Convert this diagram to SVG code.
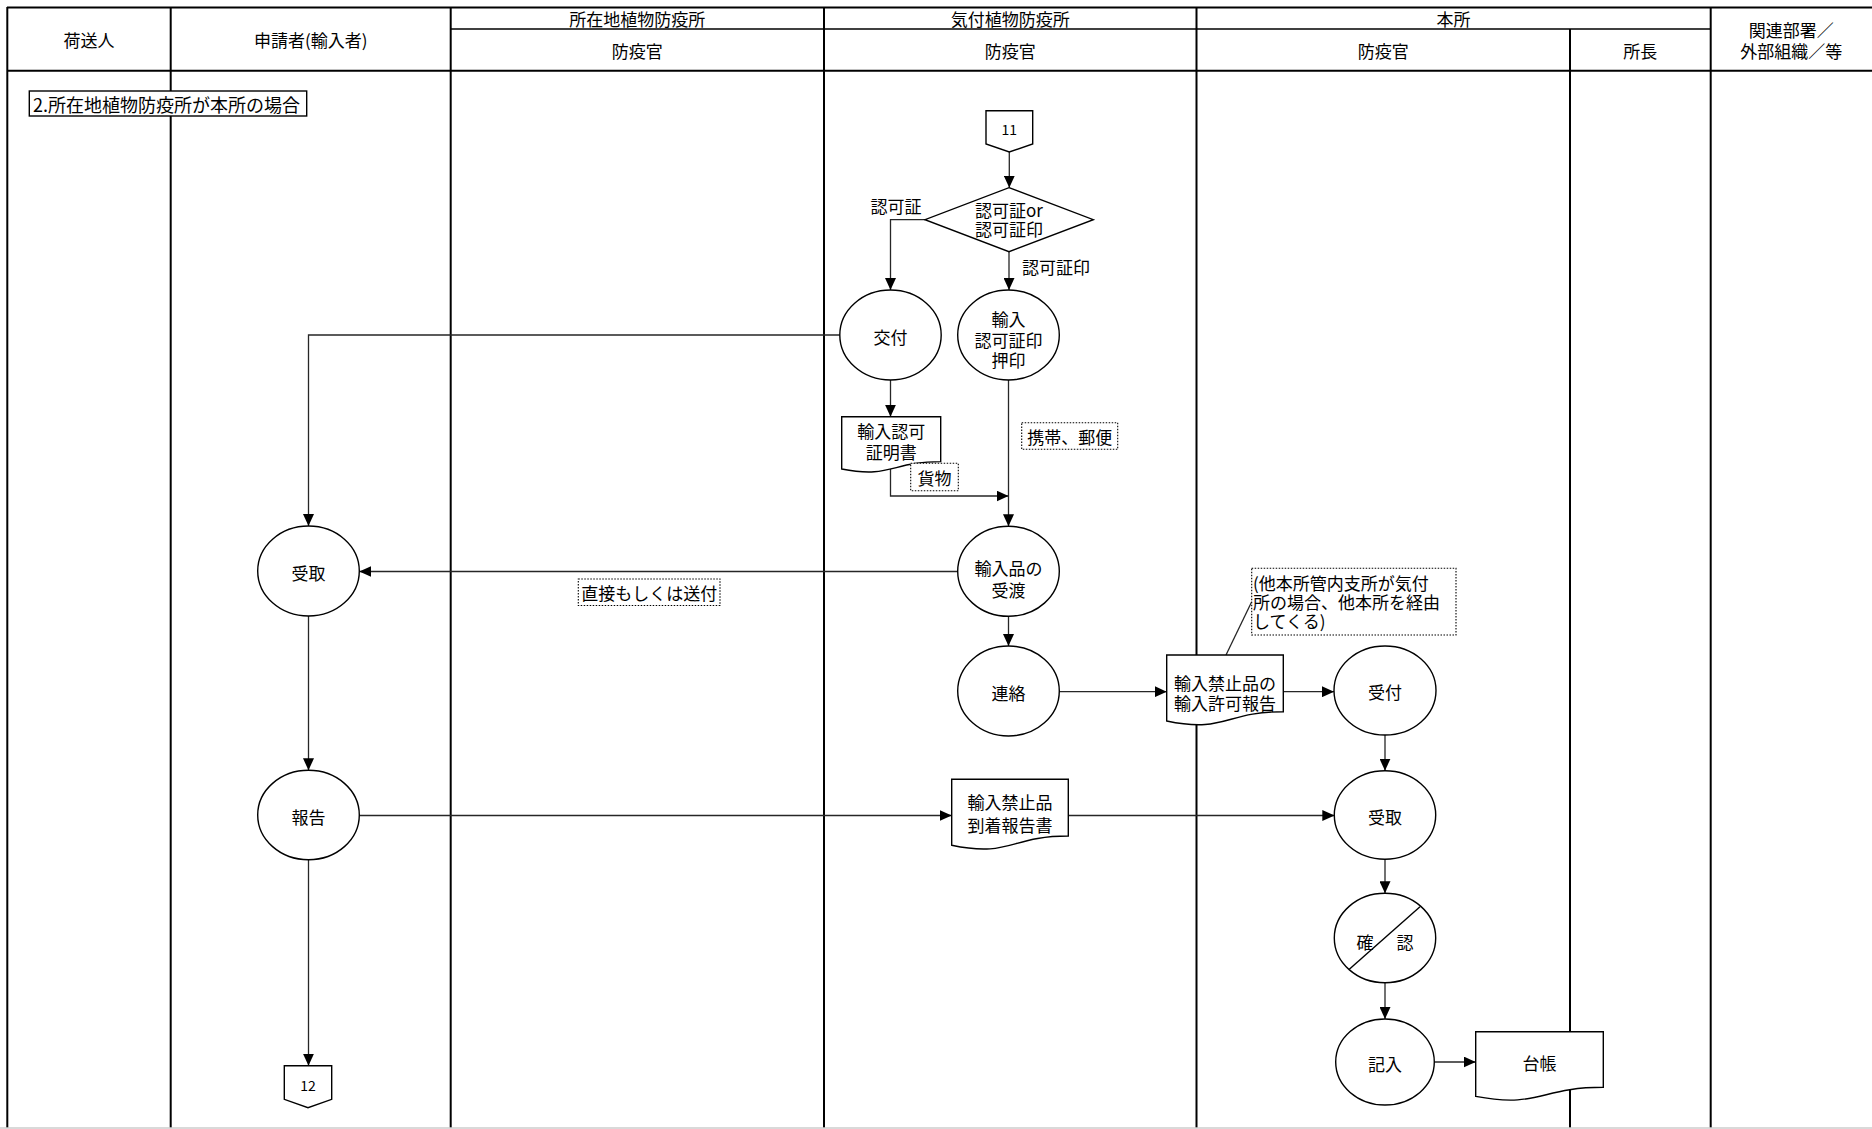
<svg xmlns="http://www.w3.org/2000/svg" width="1872" height="1129" viewBox="0 0 1872 1129">
<style>
.lane{stroke:#000;stroke-width:2;fill:none}
.lane2{stroke:#000;stroke-width:1.5;fill:none}
.conn{stroke:#262626;stroke-width:1.3;fill:none}
.shape{fill:#fff;stroke:#000;stroke-width:1.4}
.note{fill:#fff;stroke:#000;stroke-width:1.1;stroke-dasharray:1.5 1.5}
text{font-family:"Noto Sans CJK JP","Noto Sans",sans-serif;font-size:17px;fill:#000;text-anchor:middle;dominant-baseline:central}
.l{text-anchor:start}
.small{font-size:14px}
.title{font-size:18px}
</style>
<defs>
<marker id="arr" viewBox="0 0 12 11" refX="12" refY="5.5" markerWidth="12" markerHeight="11" markerUnits="userSpaceOnUse" orient="auto">
<path d="M0,0 L12,5.5 L0,11 z" fill="#000"/>
</marker>
</defs>
<rect x="0" y="0" width="1872" height="1129" fill="#fff"/>
<g id="lanes">
<line class="lane" x1="7" y1="7.5" x2="1872" y2="7.5"/>
<line class="lane2" x1="450.7" y1="29" x2="1710.7" y2="29"/>
<line class="lane" x1="7" y1="70.7" x2="1872" y2="70.7"/>
<line class="lane" x1="7.3" y1="7" x2="7.3" y2="1128"/>
<line class="lane" x1="170.7" y1="7" x2="170.7" y2="1128"/>
<line class="lane" x1="450.7" y1="7" x2="450.7" y2="1128"/>
<line class="lane" x1="824" y1="7" x2="824" y2="1128"/>
<line class="lane" x1="1196.5" y1="7" x2="1196.5" y2="1128"/>
<line class="lane" x1="1570" y1="29" x2="1570" y2="1128"/>
<line class="lane" x1="1710.7" y1="7" x2="1710.7" y2="1128"/>
<line x1="0" y1="1128" x2="1872" y2="1128" stroke="#cccccc" stroke-width="1.5"/>
<text x="89" y="39">荷送人</text>
<text x="310.7" y="39">申請者(輸入者)</text>
<text x="637.3" y="18">所在地植物防疫所</text>
<text x="637.3" y="50">防疫官</text>
<text x="1010.2" y="18">気付植物防疫所</text>
<text x="1010.2" y="50">防疫官</text>
<text x="1453.6" y="18">本所</text>
<text x="1383.2" y="50">防疫官</text>
<text x="1640.3" y="50">所長</text>
<text x="1791.3" y="29">関連部署／</text>
<text x="1791.3" y="50">外部組織／等</text>
</g>
<g id="connectors">
<path class="conn" d="M1009.3,152 V187.7" marker-end="url(#arr)"/>
<path class="conn" d="M925,219.7 H890.5 V290" marker-end="url(#arr)"/>
<path class="conn" d="M1009,251.7 V290" marker-end="url(#arr)"/>
<path class="conn" d="M839.8,335 H308.5 V526" marker-end="url(#arr)"/>
<path class="conn" d="M890.5,380 V416.7" marker-end="url(#arr)"/>
<path class="conn" d="M890.5,469 V496 H1008.5" marker-end="url(#arr)"/>
<path class="conn" d="M1008.5,380 V526.3" marker-end="url(#arr)"/>
<path class="conn" d="M957.7,571.5 H359.3" marker-end="url(#arr)"/>
<path class="conn" d="M1008.5,616.3 V646" marker-end="url(#arr)"/>
<path class="conn" d="M1059.3,691.7 H1166.7" marker-end="url(#arr)"/>
<path class="conn" d="M1283.3,691.7 H1334" marker-end="url(#arr)"/>
<path class="conn" d="M1385,735 V770.7" marker-end="url(#arr)"/>
<path class="conn" d="M308.5,616 V770.3" marker-end="url(#arr)"/>
<path class="conn" d="M359.3,815.5 H951.7" marker-end="url(#arr)"/>
<path class="conn" d="M1068.3,815.5 H1334.3" marker-end="url(#arr)"/>
<path class="conn" d="M1385,859.3 V893.3" marker-end="url(#arr)"/>
<path class="conn" d="M1385,982.7 V1019" marker-end="url(#arr)"/>
<path class="conn" d="M1434.5,1062 H1475.7" marker-end="url(#arr)"/>
<path class="conn" d="M308.5,859.7 V1065.7" marker-end="url(#arr)"/>
<path class="conn" d="M1251.7,601.7 L1226,655"/>
</g>
<g id="title">
<rect class="shape" x="29.3" y="91" width="277.4" height="25" stroke-width="1.3"/>
<text class="title l" x="33" y="103.5">2.所在地植物防疫所が本所の場合</text>
</g>
<g id="n11">
<polygon class="shape" points="986,110.7 1032.7,110.7 1032.7,144 1009.3,152 986,144"/>
<text class="small" x="1009.3" y="129">11</text>
</g>
<g id="decision">
<polygon class="shape" points="1009,187.7 1093.3,219.7 1009,251.7 925,219.7"/>
<text x="1009" y="209">認可証or</text>
<text x="1009" y="228">認可証印</text>
</g>
<g id="label-ninkasho"><text x="896" y="205">認可証</text></g>
<g id="label-ninkashoin"><text x="1056" y="266">認可証印</text></g>
<g id="kofu">
<ellipse class="shape" cx="890.5" cy="335" rx="50.7" ry="45"/>
<text x="890.5" y="336">交付</text>
</g>
<g id="ouin">
<ellipse class="shape" cx="1008.5" cy="335" rx="50.8" ry="45"/>
<text x="1008.5" y="318">輸入</text>
<text x="1008.5" y="339">認可証印</text>
<text x="1008.5" y="359">押印</text>
</g>
<g id="doc-shomeisho">
<path class="shape" d="M841.7,416.7 H940.7 V461.6 C891.2,461.6 891.2,478.7 841.7,469 Z"/>
<text x="891.2" y="430">輸入認可</text>
<text x="891.2" y="451">証明書</text>
</g>
<g id="note-kamotsu">
<rect class="note" x="910.7" y="463.3" width="47.6" height="27.4"/>
<text x="934.5" y="477">貨物</text>
</g>
<g id="note-keitai">
<rect class="note" x="1021.7" y="422.7" width="96" height="26.6"/>
<text x="1069.7" y="436">携帯、郵便</text>
</g>
<g id="juto">
<ellipse class="shape" cx="1008.5" cy="571.3" rx="50.8" ry="45"/>
<text x="1008.5" y="567">輸入品の</text>
<text x="1008.5" y="589">受渡</text>
</g>
<g id="renraku">
<ellipse class="shape" cx="1008.5" cy="691" rx="50.8" ry="45"/>
<text x="1008.5" y="692">連絡</text>
</g>
<g id="note-chokusetsu">
<rect class="note" x="578.3" y="579" width="141.7" height="26.5"/>
<text x="649.2" y="592.5">直接もしくは送付</text>
</g>
<g id="uketori-shinsei">
<ellipse class="shape" cx="308.5" cy="571" rx="50.8" ry="45"/>
<text x="308.5" y="572">受取</text>
</g>
<g id="hokoku">
<ellipse class="shape" cx="308.5" cy="815" rx="50.8" ry="44.7"/>
<text x="308.5" y="816">報告</text>
</g>
<g id="n12">
<polygon class="shape" points="284.3,1065.7 331.7,1065.7 331.7,1099.3 308,1107.7 284.3,1099.3"/>
<text class="small" x="308" y="1085">12</text>
</g>
<g id="doc-kyoka">
<path class="shape" d="M1166.7,655 H1283.3 V711.7 C1225,711.7 1225,733.3 1166.7,721 Z"/>
<text x="1225" y="682">輸入禁止品の</text>
<text x="1225" y="702">輸入許可報告</text>
</g>
<g id="note-tahonsho">
<rect class="note" x="1251.7" y="568.3" width="204.3" height="66.7"/>
<text class="l" x="1253" y="582">(他本所管内支所が気付</text>
<text class="l" x="1253" y="601">所の場合、他本所を経由</text>
<text class="l" x="1253" y="620">してくる)</text>
</g>
<g id="uketsuke">
<ellipse class="shape" cx="1385" cy="690.5" rx="51" ry="44.5"/>
<text x="1385" y="691">受付</text>
</g>
<g id="doc-tochaku">
<path class="shape" d="M951.7,779.3 H1068.3 V836 C1010,836 1010,857.6 951.7,845.3 Z"/>
<text x="1010" y="801">輸入禁止品</text>
<text x="1010" y="824">到着報告書</text>
</g>
<g id="uketori-honsho">
<ellipse class="shape" cx="1385" cy="815" rx="50.7" ry="44.3"/>
<text x="1385" y="816">受取</text>
</g>
<g id="kakunin">
<ellipse class="shape" cx="1385" cy="938" rx="50.7" ry="44.7"/>
<line x1="1349.3" y1="969.3" x2="1420" y2="906.7" stroke="#000" stroke-width="1.4"/>
<text x="1365" y="941.5">確</text>
<text x="1405" y="941.5">認</text>
</g>
<g id="kinyu">
<ellipse class="shape" cx="1385" cy="1062" rx="49.3" ry="43"/>
<text x="1385" y="1063">記入</text>
</g>
<g id="doc-daicho">
<path class="shape" d="M1475.7,1031.7 H1603.3 V1087.3 C1539.5,1087.3 1539.5,1108.4 1475.7,1096.4 Z"/>
<text x="1539.5" y="1062">台帳</text>
</g>
</svg>
